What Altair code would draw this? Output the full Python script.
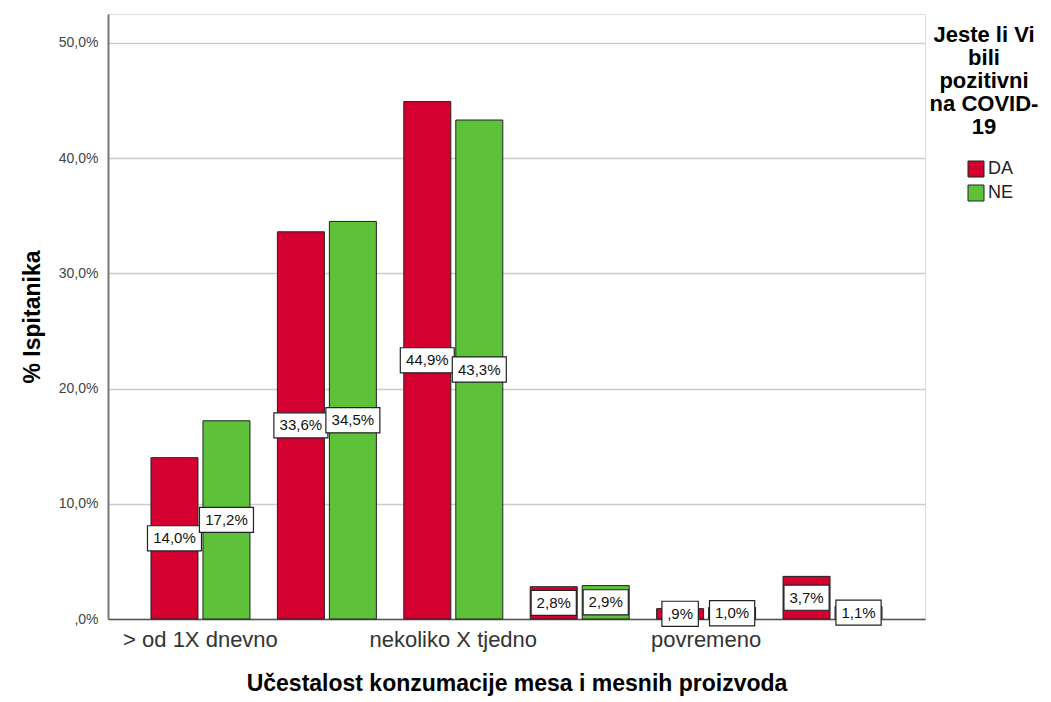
import altair as alt
import pandas as pd

categories = ["> od 1X dnevno", "1X dnevno", "nekoliko X tjedno", "1X tjedno", "povremeno", "nikada"]
shown_labels = ["> od 1X dnevno", "nekoliko X tjedno", "povremeno"]
groups = ["DA", "NE"]
da_values = [14.0, 33.6, 44.9, 2.8, 0.9, 3.7]
ne_values = [17.2, 34.5, 43.3, 2.9, 1.0, 1.1]
y_ticks = [0, 10, 20, 30, 40, 50]


def fmt(v):
    s = f"{v:.1f}".replace(".", ",")
    if s.startswith("0"):
        s = s[1:]
    return s + "%"


rows = []
for cat, d, n in zip(categories, da_values, ne_values):
    rows.append({"cat": cat, "grp": "DA", "val": d, "lbl": fmt(d)})
    rows.append({"cat": cat, "grp": "NE", "val": n, "lbl": fmt(n)})
df = pd.DataFrame(rows)

FONT = "Liberation Sans"
RED = "#D40030"
GREEN = "#5DC23A"

shown_expr = "indexof(" + str(shown_labels).replace("'", '"') + ", datum.value) >= 0 ? datum.value : ''"

x_enc = alt.X(
    "cat:N",
    sort=categories,
    scale=alt.Scale(paddingInner=0.217, paddingOuter=0.34),
    axis=alt.Axis(
        title="Učestalost konzumacije mesa i mesnih proizvoda",
        labelExpr=shown_expr,
        labelAngle=0,
        labelFont=FONT,
        labelFontSize=22,
        labelColor="#333333",
        labelPadding=10,
        ticks=False,
        domainColor="#555555",
        domainWidth=1.5,
        titleFont=FONT,
        titleFontSize=23,
        titleFontWeight="bold",
        titleColor="#000000",
        titlePadding=22,
        grid=False,
    ),
)
xoff_enc = alt.XOffset("grp:N", sort=groups, scale=alt.Scale(paddingInner=0.096))

y_axis = alt.Axis(
    title="% Ispitanika",
    values=y_ticks,
    labelExpr="datum.value == 0 ? ',0%' : replace(format(datum.value, '.1f'), '.', ',') + '%'",
    labelFont=FONT,
    labelFontSize=14,
    labelColor="#444444",
    labelPadding=10,
    ticks=False,
    domainColor="#777777",
    domainWidth=2,
    grid=True,
    gridColor="#cccccc",
    gridWidth=1.5,
    titleFont=FONT,
    titleFontSize=23,
    titleFontWeight="bold",
    titleColor="#000000",
    titlePadding=14,
)
y_scale = alt.Scale(domain=[0, 52.5], nice=False, zero=True)

base = alt.Chart(df)

bars = base.mark_bar(stroke="#222222", strokeWidth=1).encode(
    x=x_enc,
    xOffset=xoff_enc,
    y=alt.Y("val:Q", scale=y_scale, axis=y_axis),
    color=alt.Color(
        "grp:N",
        sort=groups,
        scale=alt.Scale(domain=groups, range=[RED, GREEN]),
        legend=alt.Legend(
            title=["Jeste li Vi", "bili", "pozitivni", "na COVID-", "19"],
            orient="none",
            legendX=822,
            legendY=11,
            padding=0,
            titleFont=FONT,
            titleFontSize=22,
            titleFontWeight="bold",
            titleColor="#000000",
            titleAlign="center",
            titleAnchor="middle",
            titleLineHeight=23,
            titlePadding=21,
            labelFont=FONT,
            labelFontSize=18,
            labelColor="#222222",
            labelOffset=3,
            symbolType="square",
            symbolSize=256,
            symbolStrokeColor="#222222",
            symbolStrokeWidth=1,
            symbolOffset=13,
            rowPadding=4,
        ),
    ),
)

boxes = base.transform_calculate(
    lo="datum.val / 2 - 1.09",
    hi="datum.val / 2 + 1.09",
    bw="10 + 8.8 * length(datum.lbl)",
).mark_bar(fill="white", stroke="#222222", strokeWidth=1.2).encode(
    x=x_enc,
    xOffset=xoff_enc,
    y=alt.Y("lo:Q", scale=y_scale, axis=y_axis),
    y2="hi:Q",
    size=alt.Size("bw:Q", scale=None, legend=None),
)

texts = base.transform_calculate(
    mid="datum.val / 2",
).mark_text(font=FONT, fontSize=15, color="#111111", baseline="middle", align="center").encode(
    x=x_enc,
    xOffset=xoff_enc,
    y=alt.Y("mid:Q", scale=y_scale, axis=y_axis),
    text="lbl:N",
)

chart = alt.layer(bars, boxes, texts).properties(
    width=817,
    height=605,
    autosize=alt.AutoSizeParams(type="none"),
    padding={"left": 100, "top": 6, "right": 118, "bottom": 80},
).configure_view(strokeWidth=0).configure(background="white")

chart.save("out.html", embed_options={"renderer": "svg", "actions": False})
